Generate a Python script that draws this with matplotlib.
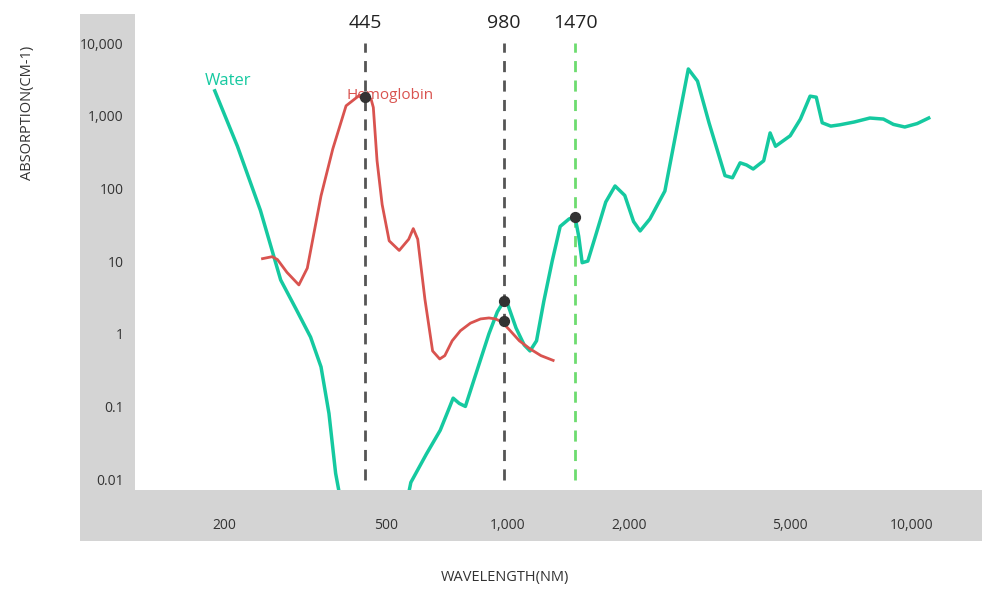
import numpy as np
import matplotlib.pyplot as plt
from matplotlib.patches import Rectangle

plt.rcParams['font.family'] = ['Open Sans', 'DejaVu Sans']

# water absorption (wavelength nm, absorption cm-1)
water_x = [189, 215, 245, 275, 300, 326, 346, 362, 376, 390,
           560, 577, 630, 682, 715, 734, 760, 787, 830, 900, 944, 975, 1000, 1050, 1100, 1137, 1180, 1230, 1290, 1350, 1420, 1470, 1500, 1530, 1580,
           1650, 1750, 1845, 1950, 2050, 2128, 2250, 2450, 2650, 2800, 2950, 3150, 3450, 3600, 3760, 3900, 4050,
           4300, 4460, 4600, 5000, 5300, 5600, 5800, 6000, 6300, 6630, 7200, 7870, 8500, 9000, 9600, 10300, 11000]
water_y = [2200, 380, 50, 5.5, 2.2, 0.9, 0.35, 0.08, 0.012, 0.004,
           0.004, 0.009, 0.022, 0.047, 0.09, 0.13, 0.11, 0.1, 0.25, 1.0, 2.0, 2.7, 2.6, 1.2, 0.7, 0.58, 0.8, 2.8, 10, 30, 38, 40, 22, 9.5, 10,
           22, 65, 108, 80, 35, 26, 38, 92, 900, 4400, 3000, 800, 150, 140, 225, 210, 185,
           240, 580, 380, 530, 900, 1860, 1800, 800, 720, 750, 820, 930, 900, 760, 700, 780, 930]

# hemoglobin absorption
hb_x = [248, 262, 270, 285, 305, 320, 346, 370, 399, 430, 445, 460, 466, 476, 490, 510, 540, 570, 585, 600, 625, 653, 680, 700, 730, 765,
        810, 858, 900, 934, 970, 1016, 1070, 1137, 1210, 1297]
hb_y = [10.8, 11.5, 10.5, 7.0, 4.7, 8, 79, 350, 1370, 1900, 1800, 1700, 1300, 240, 60, 19, 14, 20, 28, 20, 3, 0.58, 0.45, 0.5, 0.8, 1.1,
        1.4, 1.6, 1.65, 1.6, 1.45, 1.1, 0.8, 0.62, 0.5, 0.43]

peaks = [445, 980, 1470]
marker_x = [445, 980, 980, 1470]
marker_y = [1800, 2.8, 1.5, 40]

water_col = '#15c9a0'
hb_col = '#d9534f'

fig = plt.figure(figsize=(10, 5.96), dpi=100)
fig.patches.append(Rectangle((0.08, 1 - 541/596), 0.902, 527/596, transform=fig.transFigure,
                             facecolor='#d4d4d4', edgecolor='none', zorder=0))
ax = fig.add_axes([0.135, 1 - 490/596, 0.847, 476/596])
ax.set_zorder(2)
ax.set_facecolor('white')
ax.set_xscale('log')
ax.set_yscale('log')
ax.set_xlim(120, 14900)
ax.set_ylim(10**-2.15, 10**4.4)

ax.plot(water_x, water_y, color=water_col, lw=2.5, zorder=3)
ax.plot(hb_x, hb_y, color=hb_col, lw=2, zorder=3)

for p in peaks:
    c = '#6ddc6f' if p == 1470 else '#555555'
    ax.axvline(p, ymin=0.02, ymax=0.94, color=c, ls=(0, (4, 3)), lw=2, zorder=2)
    ax.text(p, 10**4.15, str(p), ha='center', va='bottom', fontsize=14, color='#222222')
ax.scatter(marker_x, marker_y, s=50, color='#333333', zorder=5)

ax.text(178, 3000, 'Water', color=water_col, fontsize=12, ha='left', va='center')
ax.text(400, 1900, 'Hemoglobin', color=hb_col, fontsize=11, ha='left', va='center')

ax.set_xticks([200, 500, 1000, 2000, 5000, 10000])
ax.set_xticklabels(['200', '500', '1,000', '2,000', '5,000', '10,000'])
ax.set_yticks([0.01, 0.1, 1, 10, 100, 1000, 10000])
ax.set_yticklabels(['0.01', '0.1', '1', '10', '100', '1,000', '10,000'])
ax.minorticks_off()
ax.tick_params(length=0, labelsize=10, colors='#333333', pad=8)
ax.tick_params(axis='x', pad=20)
for s in ax.spines.values():
    s.set_visible(False)

fig.text(0.028, 1 - 113/596, 'ABSORPTION(CM-1)', rotation=90, ha='center', va='center', fontsize=10.5, color='#333333')
fig.text(0.505, 1 - 578/596, 'WAVELENGTH(NM)', ha='center', va='center', fontsize=10.5, color='#333333')

fig.savefig('out.png', dpi=100)
